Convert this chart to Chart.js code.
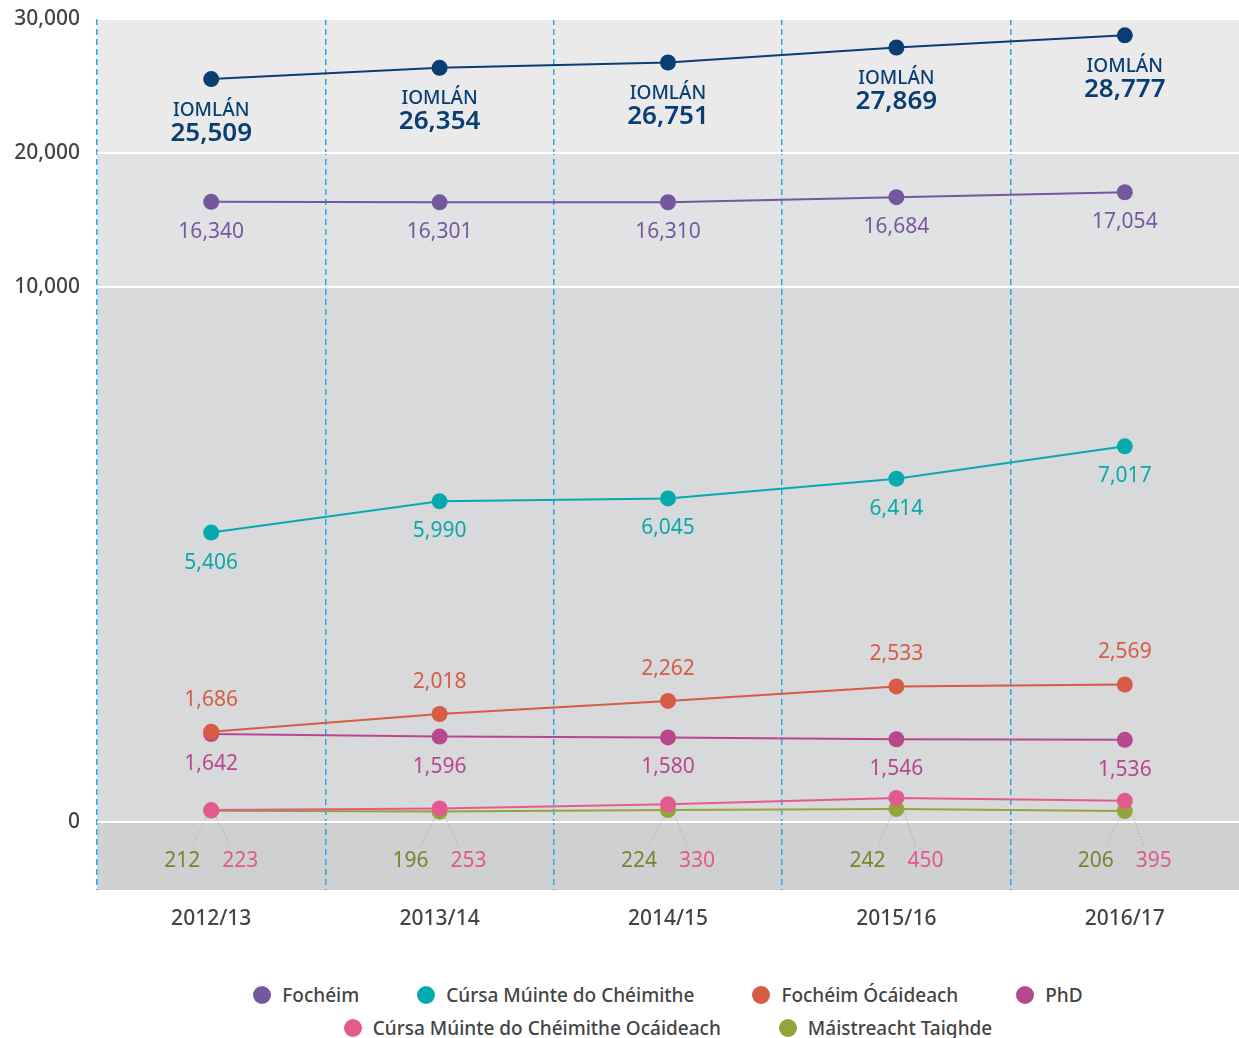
<!DOCTYPE html>
<html>
<head>
<meta charset="utf-8">
<script src="https://cdn.jsdelivr.net/npm/chart.js@4"></script>
<style>
  html, body { margin: 0; padding: 0; background: #fff; }
  body { width: 1239px; height: 1038px; position: relative; overflow: hidden; font-family: "Noto Sans", sans-serif; }
  #wrap { position: absolute; left: 0; top: 0; width: 1239px; height: 950px; }
  #legend { position: absolute; left: 97px; width: 1142px; top: 978px; }
  .row { display: flex; justify-content: center; gap: 58px; height: 33px; align-items: center; }
  .item { display: flex; align-items: center; font-size: 19px; font-weight: 500; color: #444; }
  .dot { width: 18px; height: 18px; border-radius: 50%; margin-right: 11px; }
</style>
</head>
<body>
<div id="wrap"><canvas id="mainChart"></canvas></div>
<div id="legend"></div>
<script>
const years = ['2012/13', '2013/14', '2014/15', '2015/16', '2016/17'];
const yTicks = [0, 10000, 20000, 30000];

const totalVals = [25509, 26354, 26751, 27869, 28777];
const fochVals = [16340, 16301, 16310, 16684, 17054];
const cursaVals = [5406, 5990, 6045, 6414, 7017];
const ocaidVals = [1686, 2018, 2262, 2533, 2569];
const phdVals = [1642, 1596, 1580, 1546, 1536];
const cursaOcaidVals = [223, 253, 330, 450, 395];
const maistVals = [212, 196, 224, 242, 206];

const totalLabel = 'IOMLÁN';
const seriesNames = ['Fochéim', 'Cúrsa Múinte do Chéimithe', 'Fochéim Ócáideach', 'PhD',
  'Cúrsa Múinte do Chéimithe Ocáideach', 'Máistreacht Taighde'];

// value -> axis units: 0-10k is stretched 4x compared with the upper bands
const fwd = v => v <= 10000 ? v / 2500 : v <= 20000 ? 4 + (v - 10000) / 10000 : 5 + (v - 20000) / 10000;
const inv = u => u <= 4 ? u * 2500 : u <= 5 ? 10000 + (u - 4) * 10000 : 20000 + (u - 5) * 10000;

class BrokenScale extends Chart.LinearScale {
  getPixelForValue(value) {
    const a = fwd(this.min), b = fwd(this.max);
    return this.getPixelForDecimal((fwd(value) - a) / (b - a));
  }
  getValueForPixel(pixel) {
    const a = fwd(this.min), b = fwd(this.max);
    return inv(a + this.getDecimalForPixel(pixel) * (b - a));
  }
}
BrokenScale.id = 'broken';
BrokenScale.defaults = Chart.LinearScale.defaults;
Chart.register(BrokenScale);

const fmt = v => v.toLocaleString('en-US');

// background bands behind the plot
const bandsPlugin = {
  id: 'bands',
  beforeDraw(chart) {
    const { ctx, chartArea: a, scales: { y } } = chart;
    const edges = [y.min, 0, 10000, 20000, y.max];
    const fills = ['#cfd0d2', '#d8d9db', '#e1e2e4', '#eaeaeb'];
    ctx.save();
    for (let i = 0; i < fills.length; i++) {
      const top = y.getPixelForValue(edges[i + 1]);
      const bot = y.getPixelForValue(edges[i]);
      ctx.fillStyle = fills[i];
      ctx.fillRect(a.left, top, a.right - a.left, bot - top);
    }
    ctx.restore();
  }
};

// value labels next to the points
const valueLabels = {
  id: 'valueLabels',
  afterDatasetsDraw(chart) {
    const { ctx, scales: { y } } = chart;
    const zeroY = y.getPixelForValue(0);
    ctx.save();
    ctx.textAlign = 'center';
    ctx.textBaseline = 'middle';
    chart.data.datasets.forEach((ds, di) => {
      const meta = chart.getDatasetMeta(di);
      meta.data.forEach((pt, i) => {
        const v = ds.data[i];
        if (ds.labelMode === 'total') {
          ctx.fillStyle = ds.borderColor;
          ctx.font = '500 19px "Noto Sans"';
          ctx.fillText(totalLabel, pt.x, pt.y + 31);
          ctx.font = '600 26px "Noto Sans"';
          ctx.fillText(fmt(v), pt.x, pt.y + 54);
        } else if (ds.labelMode === 'left' || ds.labelMode === 'right') {
          const s = ds.labelMode === 'left' ? -1 : 1;
          const lx = pt.x + s * 29, ly = zeroY + 39;
          ctx.strokeStyle = ds.leaderColor;
          ctx.lineWidth = 1;
          ctx.setLineDash([1, 2]);
          ctx.beginPath();
          ctx.moveTo(pt.x + s * 5, pt.y + 7);
          ctx.lineTo(pt.x + s * 19, zeroY + 24);
          ctx.stroke();
          ctx.setLineDash([]);
          ctx.fillStyle = ds.labelColor;
          ctx.font = '21px "Noto Sans"';
          ctx.fillText(fmt(v), lx, ly);
        } else {
          ctx.fillStyle = ds.labelColor;
          ctx.font = '21px "Noto Sans"';
          ctx.fillText(fmt(v), pt.x, pt.y + (ds.labelMode === 'above' ? -32 : 30));
        }
      });
    });
    ctx.restore();
  }
};

const line = (label, data, color, labelColor, labelMode, extra) => Object.assign({
  label, data, borderColor: color, backgroundColor: color, labelColor, labelMode,
  borderWidth: 2, pointRadius: 8, pointHoverRadius: 8, pointBorderWidth: 0, tension: 0, fill: false
}, extra || {});

const ctx = document.getElementById('mainChart').getContext('2d');
const mainChart = new Chart(ctx, {
  type: 'line',
  data: {
    labels: years,
    datasets: [
      line(totalLabel, totalVals, '#0a3e73', '#0a3e73', 'total'),
      line(seriesNames[0], fochVals, '#74579d', '#77599f', 'below'),
      line(seriesNames[1], cursaVals, '#06aaae', '#0aa9ad', 'below'),
      line(seriesNames[2], ocaidVals, '#d65c45', '#d65c45', 'above'),
      line(seriesNames[3], phdVals, '#b8488e', '#b8488e', 'below'),
      line(seriesNames[4], cursaOcaidVals, '#e35b8e', '#e05a8c', 'right', { leaderColor: '#e57aa2' }),
      line(seriesNames[5], maistVals, '#93a53a', '#77862e', 'left', { leaderColor: '#a9b85f' })
    ]
  },
  options: {
    responsive: true,
    maintainAspectRatio: false,
    animation: false,
    locale: 'en-US',
    layout: { autoPadding: false, padding: { top: 19, right: 0, left: 0, bottom: 0 } },
    plugins: { legend: { display: false }, tooltip: { enabled: false } },
    scales: {
      x: {
        type: 'category',
        offset: true,
        grid: {
          offset: true,
          // no divider on the right-hand edge
          color: c => c.type === 'tick' ? '#2aa6e2' : 'rgba(0,0,0,0)',
          lineWidth: 1.5,
          drawTicks: false
        },
        border: { display: false, dash: [6, 4] },
        ticks: { color: '#444', font: { family: 'Noto Sans', size: 21, weight: 500 }, padding: 16 },
        afterFit: s => { s.height = 60; s.paddingLeft = 0; s.paddingRight = 0; }
      },
      y: {
        type: 'broken',
        min: -1270,
        max: 30000,
        afterBuildTicks: s => { s.ticks = yTicks.map(v => ({ value: v })); },
        grid: { color: '#ffffff', lineWidth: 2, drawTicks: false },
        border: { display: false },
        ticks: { color: '#444', font: { family: 'Noto Sans', size: 21, weight: 500 }, padding: 17 },
        afterFit: s => { s.width = 97; s.paddingTop = 0; s.paddingBottom = 0; }
      }
    }
  },
  plugins: [bandsPlugin, valueLabels]
});

// legend rows (total is left out)
const legendRows = [[1, 2, 3, 4], [5, 6]];
const legendEl = document.getElementById('legend');
legendRows.forEach(row => {
  const r = document.createElement('div');
  r.className = 'row';
  row.forEach(di => {
    const ds = mainChart.data.datasets[di];
    const it = document.createElement('div');
    it.className = 'item';
    const d = document.createElement('span');
    d.className = 'dot';
    d.style.background = ds.borderColor;
    it.appendChild(d);
    it.appendChild(document.createTextNode(ds.label));
    r.appendChild(it);
  });
  legendEl.appendChild(r);
});
</script>
</body>
</html>
